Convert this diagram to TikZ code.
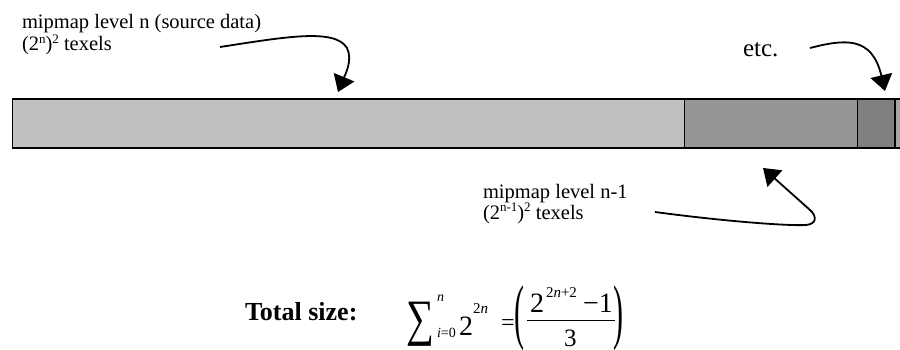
\documentclass[tikz,border=0pt]{standalone}
\usepackage{fontspec}
\usepackage{graphicx}
\setmainfont{Liberation Serif}
\usetikzlibrary{arrows.meta}
\newcommand{\fsz}[1]{\fontsize{#1}{#1}\selectfont}
\newcommand{\supx}[1]{\raisebox{0.36em}{\fsz{13}#1}}
\begin{document}
\begin{tikzpicture}[x=1pt,y=-1pt,
  seg/.style={draw=black, line width=1.6pt, anchor=north west, minimum height=49pt, inner sep=0pt, outer sep=0pt},
  lbl/.style={anchor=base west, inner sep=0pt, outer sep=0pt, font=\fsz{20.5}},
  crv/.style={line width=1.8pt, -{Triangle[width=22pt,length=16pt]}},
  mth/.style={anchor=base west, inner sep=0pt, outer sep=0pt}]
\useasboundingbox (0,0) rectangle (900,350);
\clip (0,0) rectangle (900,350);
% bar
\node[seg, fill={rgb,255:red,192;green,192;blue,192}, minimum width=672pt] (s0) at (12.5,99) {};
\node[seg, fill={rgb,255:red,150;green,150;blue,150}, minimum width=173pt] (s1) at (684.5,99) {};
\node[seg, fill={rgb,255:red,128;green,128;blue,128}, minimum width=37.5pt] (s2) at (857.5,99) {};
\node[seg, fill={rgb,255:red,166;green,166;blue,166}, minimum width=55pt] (s3) at (895,99) {};
% labels
\node[lbl] (l1a) at (22,29) {mipmap level n (source data)};
\node[lbl] (l1b) at (22,51) {(2\supx{n})\supx{2} texels};
\node[lbl, font=\fsz{25}] (etc) at (743,57) {etc.};
\node[lbl] (l3a) at (483,198) {mipmap level n-1};
\node[lbl] (l3b) at (483,219) {(2\supx{n-1})\supx{2} texels};
% arrows
\coordinate (a1s) at (220,47);
\coordinate (a1e) at (338,92);
\draw[crv] (a1s) .. controls (285,37) and (335,28) .. (347,48) .. controls (353,60) and (345,75) .. (a1e);
\coordinate (a2s) at (810,48);
\coordinate (a2e) at (885,91);
\draw[crv] (a2s) .. controls (845,39) and (872,36) .. (a2e);
\coordinate (a3s) at (655,212);
\coordinate (a3m) at (810,210);
\coordinate (a3e) at (763,168);
\draw[crv] (a3s) .. controls (730,222) and (790,226) .. (806,225) .. controls (818,224) and (816,215) .. (a3m) -- (a3e);
% formula
\node[mth] (tot) at (245,320) {\fsz{26}\bfseries Total size:};
\node[mth] (sig) at (406,335) {\scalebox{1.15}[1.5]{\fsz{34}∑}};
\node[mth] (sn) at (437,301) {\fsz{14}\itshape n};
\node[mth] (si) at (437,337) {\fsz{14}{\itshape i}=0};
\node[mth] (t2) at (459,335) {\fsz{28}2};
\node[mth] (t2n) at (473,313) {\fsz{15}2{\itshape n}};
\node[mth] (eq) at (501,330) {\fsz{24}=};
\node[mth] (lp) at (514,335) {\scalebox{1}[2.4]{\fsz{30}(}};
\node[mth] (n2) at (530,312) {\fsz{28}2};
\node[mth] (n2s) at (546,297) {\fsz{15}2{\itshape n}+2};
\node[mth] (nm) at (583,312) {\fsz{28}−1};
\coordinate (fb1) at (527,320);
\coordinate (fb2) at (615,320);
\draw[line width=1pt] (fb1) -- (fb2);
\node[mth] (d3) at (564,346) {\fsz{25}3};
\node[mth] (rp) at (613,335) {\scalebox{1}[2.4]{\fsz{30})}};
\end{tikzpicture}
\end{document}
